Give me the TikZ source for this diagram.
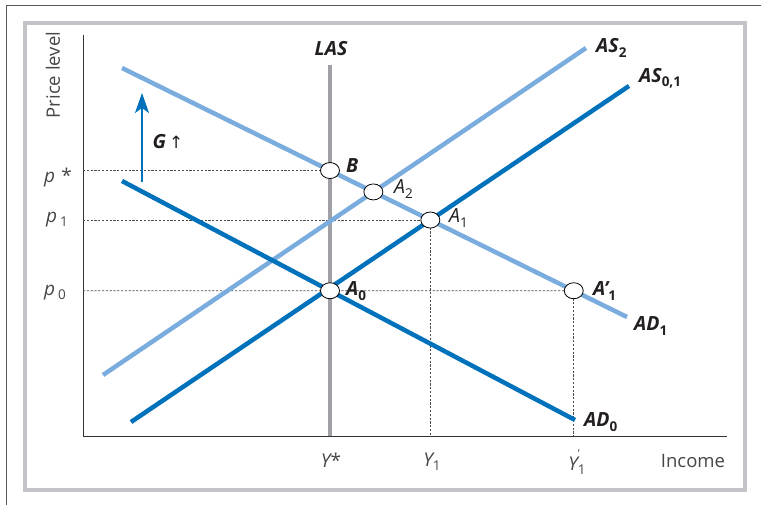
\documentclass[tikz,border=0pt]{standalone}
\usepackage{fontspec}
\setmainfont{Open Sans}
\newfontfamily\arrowfont{DejaVu Sans}
\usetikzlibrary{shapes.geometric,arrows.meta,intersections}
\definecolor{lightb}{RGB}{122,172,222}
\definecolor{darkb}{RGB}{0,114,188}
\definecolor{lasgray}{RGB}{160,160,166}
\definecolor{framegray}{RGB}{196,196,200}
\definecolor{txt}{RGB}{35,31,32}
\definecolor{axtxt}{RGB}{70,70,72}
\newcommand\sbs[1]{\raisebox{-0.4ex}{\upshape\fontsize{13.5}{13.5}\selectfont #1}}
\begin{document}
\begin{tikzpicture}[x=1pt,y=-1pt,
  curve/.style={line width=4.5pt},
  ptnode/.style={ellipse, draw=black, line width=0.8pt, fill=white, minimum width=19pt, minimum height=16pt, inner sep=0pt},
  guide/.style={draw=black!70, line width=0.7pt, dash pattern=on 2.2pt off 1.6pt},
  lbl/.style={font=\fontsize{19.5}{19.5}\selectfont\bfseries\itshape, text=txt, inner sep=0pt},
  ilbl/.style={font=\fontsize{19.5}{19.5}\selectfont\itshape, text=txt, inner sep=0pt},
  axlbl/.style={font=\fontsize{18.5}{18.5}\selectfont, text=axtxt, inner sep=0pt},
  ticklbl/.style={font=\fontsize{19}{19}\selectfont, text=axtxt, inner sep=0pt}]
\useasboundingbox (0,0) rectangle (761,505);
% frames
\draw[black!65, line width=1pt] (6,505) -- (6,6) -- (761,6);
\draw[framegray, line width=3.5pt] (25,23) rectangle (745,490);
% axes
\coordinate (O) at (83,436);
\coordinate (ytop) at (83,35);
\coordinate (xend) at (727,436);
\draw[black!80, line width=1pt] (ytop) -- (O) -- (xend);
% curve end points
\coordinate (ad1s) at (122,68);  \coordinate (ad1e) at (627,317);
\coordinate (ad0s) at (122,181); \coordinate (ad0e) at (575,420);
\coordinate (as2s) at (103,375); \coordinate (as2e) at (586,48);
\coordinate (as1s) at (131,422); \coordinate (as1e) at (629,86);
\coordinate (lass) at (330,65);  \coordinate (lase) at (330,436);
\path[name path=ad1] (ad1s) -- (ad1e);
\path[name path=ad0] (ad0s) -- (ad0e);
\path[name path=as2] (as2s) -- (as2e);
\path[name path=as1] (as1s) -- (as1e);
\path[name path=las] (lass) -- (lase);
\path[name intersections={of=ad1 and las, by=Bc}];
\path[name intersections={of=ad1 and as2, by=A2c}];
\path[name intersections={of=ad1 and as1, by=A1c}];
\path[name intersections={of=ad0 and las, by=A0c}];
\path[name path=p0line] (A0c) -- ++(400,0);
\path[name intersections={of=ad1 and p0line, by=A1pc}];
\coordinate (pstar) at (Bc -| O);
\coordinate (pone) at (A1c -| O);
\coordinate (pzero) at (A0c -| O);
\coordinate (yone) at (A1c |- O);
\coordinate (yonep) at (A1pc |- O);
% guides
\draw[guide] (pstar) -- (Bc);
\draw[guide] (pone) -- (A1c);
\draw[guide] (pzero) -- (A1pc);
\draw[guide] (A1c) -- (yone);
\draw[guide] (A1pc) -- (yonep);
% curves
\draw[curve, lasgray] (lass) -- (lase);
\draw[curve, lightb] (ad1s) -- (ad1e);
\draw[curve, lightb] (as2s) -- (as2e);
\draw[curve, darkb] (ad0s) -- (ad0e);
\draw[curve, darkb] (as1s) -- (as1e);
% shift arrow
\coordinate (gs) at (142,182);
\coordinate (ge) at (142,93);
\draw[darkb, line width=1.8pt, -{Stealth[length=20pt,width=14pt,inset=5pt]}] (gs) -- (ge);
\node[lbl] (glbl) at (168,142) {G\,{\arrowfont\mdseries\upshape\fontsize{17}{17}\selectfont ↑}};
% points
\node[ptnode] (B) at (Bc) {};
\node[ptnode] (A2) at (A2c) {};
\node[ptnode] (A1) at (A1c) {};
\node[ptnode] (A0) at (A0c) {};
\node[ptnode] (A1p) at (A1pc) {};
% point labels
\node[lbl, anchor=west] (Blbl) at (346,166) {B};
\node[ilbl, anchor=west] (A2lbl) at (394,189) {A\sbs{2}};
\node[ilbl, anchor=west] (A1lbl) at (449,218) {A\sbs{1}};
\node[lbl, anchor=west] (A0lbl) at (346,291) {A\sbs{\bfseries 0}};
\node[lbl, anchor=west] (A1plbl) at (593,291) {A'\sbs{\bfseries 1}};
% curve labels
\node[lbl] (LASlbl) at (331,49) {LAS};
\node[lbl, anchor=west] (AS2lbl) at (596,48) {AS\sbs{\bfseries 2}};
\node[lbl, anchor=west] (AS1lbl) at (639,78) {AS\sbs{\bfseries 0,1}};
\node[lbl, anchor=west] (AD1lbl) at (634,326) {AD\sbs{\bfseries 1}};
\node[lbl, anchor=west] (AD0lbl) at (584,422) {AD\sbs{\bfseries 0}};
% axis labels
\node[axlbl, rotate=90] (plev) at (53,75) {Price level};
\node[axlbl] (inc) at (693,461) {Income};
\node[ticklbl] (pstarlbl) at (58,178) {\itshape p\upshape\,\,*};
\node[ticklbl] (ponelbl) at (57,220) {\itshape p\upshape\,\sbs{1}};
\node[ticklbl] (pzerolbl) at (55,293) {\itshape p\upshape\,\sbs{0}};
\node[ticklbl] (ystarlbl) at (331,460) {\itshape Y\upshape*};
\node[ticklbl] (yonelbl) at (432,462) {\itshape Y\upshape\sbs{1}};
\node[ticklbl] (yoneplbl) at (577,462) {\itshape Y\upshape\rlap{\raisebox{1.3ex}{\fontsize{11}{11}\selectfont '}}\sbs{1}};
\end{tikzpicture}
\end{document}
